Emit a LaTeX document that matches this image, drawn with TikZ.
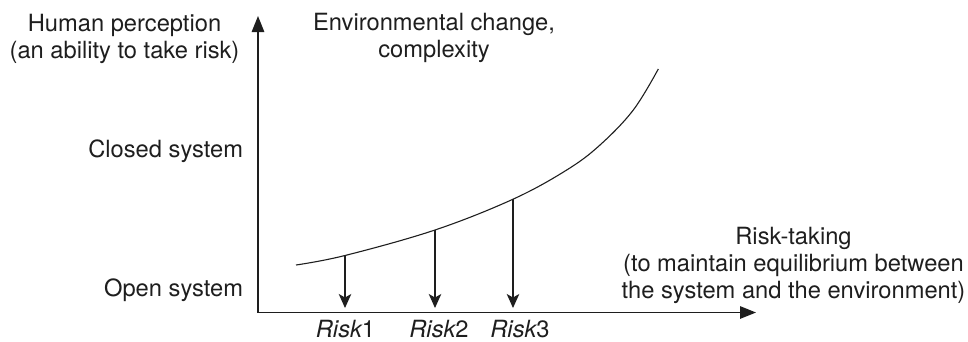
\documentclass[tikz,border=0pt]{standalone}
\usepackage{fontspec}
\setmainfont{TeX Gyre Heros}
\usetikzlibrary{arrows.meta}
\definecolor{ink}{HTML}{1E1E1E}
\tikzset{
  label/.style={inner sep=0pt, outer sep=0pt, text=ink,
    font=\fontsize{23.7}{27}\selectfont},
  axisline/.style={draw=ink, line width=1.4pt,
    -{Triangle[length=16pt,width=12.5pt]}},
  riskarrow/.style={draw=ink, line width=1.1pt,
    -{Stealth[length=14pt,width=12.5pt,inset=3.5pt]}},
  growth/.style={draw=ink, line width=1.1pt}
}
\begin{document}
\begin{tikzpicture}[x=1pt,y=-1pt]
  \useasboundingbox (0,0) rectangle (968,341);

  % axes
  \coordinate (origin) at (258,312.5);
  \coordinate (ytip) at (258,16);
  \coordinate (xtip) at (756,312.5);
  \draw[axisline] (origin) -- (ytip);
  \draw[axisline] (origin) -- (xtip);

  % growth curve of environmental change
  \coordinate (c0) at (296,265);
  \coordinate (r1) at (345,255.5);
  \coordinate (r2) at (435,230);
  \coordinate (r3) at (513,199.2);
  \coordinate (c4) at (566.7,170);
  \coordinate (c5) at (600,145);
  \coordinate (c6) at (633.3,110);
  \coordinate (c7) at (658.3,69);
  \draw[growth] plot[smooth, tension=0.6] coordinates
    {(c0) (r1) (r2) (r3) (c4) (c5) (c6) (c7)};

  % risk levels dropped onto the horizontal axis
  \coordinate (b1) at (345,308);
  \coordinate (b2) at (435,308);
  \coordinate (b3) at (513,308);
  \draw[riskarrow] (r1) -- (b1);
  \draw[riskarrow] (r2) -- (b2);
  \draw[riskarrow] (r3) -- (b3);

  % labels (base anchor of a multi-line node sits on its last line)
  \node[label, anchor=base, align=center] (human) at (124.5,58)
    {Human perception\\(an ability to take risk)};
  \node[label, anchor=base, align=center] (env) at (434,57)
    {Environmental change,\\complexity};
  \node[label, anchor=base east] (closed) at (243,157) {Closed system};
  \node[label, anchor=base east] (open) at (243,296) {Open system};
  \node[label, anchor=base, align=center] (taking) at (793.5,298)
    {Risk-taking\\(to maintain equilibrium between\\the system and the environment)};
  \node[label, anchor=base] (k1) at (345.5,337) {\itshape Risk\upshape 1};
  \node[label, anchor=base] (k2) at (439,337) {\itshape Risk\upshape 2};
  \node[label, anchor=base] (k3) at (520,337) {\itshape Risk\upshape 3};
\end{tikzpicture}
\end{document}
